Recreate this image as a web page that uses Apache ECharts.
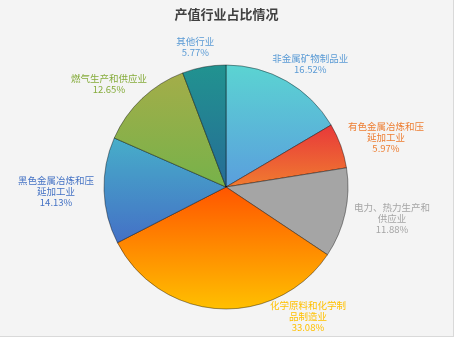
<!DOCTYPE html>
<html>
<head>
<meta charset="utf-8">
<script src="https://cdn.jsdelivr.net/npm/echarts@6/dist/echarts.min.js"></script>
<style>
    html, body { margin: 0; padding: 0; background: #ffffff; }
    #chart {
        width: 453px;
        height: 336px;
        background: #f4f4f4;
        border-right: 1px solid #d9d9d9;
        border-bottom: 1px solid #d9d9d9;
    }
</style>
</head>
<body>
<div id="chart"></div>
<script>
    // 行业名称 / 占比(%)
    var categories = ['非金属矿物制品业', '有色金属冶炼和压延加工业', '电力、热力生产和供应业',
        '化学原料和化学制品制造业', '黑色金属冶炼和压延加工业', '燃气生产和供应业', '其他行业'];
    var shares = [16.52, 5.97, 11.88, 33.08, 14.13, 12.65, 5.77];

    // 渐变色: 上 -> 下
    var topColors = ['#5bd4d2', '#e8383a', '#a5a5a5', '#ff5500', '#47aec9', '#a4ad49', '#219390'];
    var bottomColors = ['#5a9edd', '#f07c30', '#a5a5a5', '#ffc000', '#4470c6', '#76b24a', '#266c96'];
    var labelColors = ['#5b9bd5', '#ed7d31', '#a5a5a5', '#ffc000', '#4472c4', '#86ac3c', '#5b9bd5'];

    var CX = 226, CY = 187, R = 122, GAP = 9;

    // 每个扇区中线的角度 (从12点钟方向顺时针)
    var total = shares.reduce(function (a, b) { return a + b; }, 0);
    var midAngles = [];
    var acc = 0;
    shares.forEach(function (v) {
        midAngles.push((acc + v / 2) / total * Math.PI * 2);
        acc += v;
    });

    function placeLabel(a, w, h) {
        var s = Math.sin(a), c = Math.cos(a);
        return {
            x: CX + (R + GAP) * s + w / 2 * s,
            y: CY - (R + GAP) * c - h / 2 * c
        };
    }

    var chart = echarts.init(document.getElementById('chart'));
    chart.setOption({
        backgroundColor: '#f4f4f4',
        title: {
            text: '产值行业占比情况',
            left: 'center',
            top: 3,
            textStyle: {
                fontSize: 13,
                fontWeight: 'bold',
                color: '#404040',
                fontFamily: 'Noto Sans CJK SC'
            }
        },
        series: [{
            type: 'pie',
            center: [CX, CY],
            radius: R,
            startAngle: 90,
            clockwise: true,
            avoidLabelOverlap: false,
            labelLine: { show: false },
            label: {
                show: true,
                position: 'outside',
                fontSize: 9.5,
                lineHeight: 11,
                width: 78,
                overflow: 'break',
                fontFamily: 'Noto Sans CJK SC',
                formatter: function (p) {
                    return p.name + '\n' + p.value.toFixed(2) + '%';
                }
            },
            labelLayout: function (p) {
                var w = p.labelRect.width, h = p.labelRect.height;
                var a = midAngles[p.dataIndex];
                var pos = placeLabel(a, w, h);
                // 超出底部时沿圆周往回挪
                while (pos.y + h / 2 > 333) {
                    a -= 0.01;
                    pos = placeLabel(a, w, h);
                }
                return { x: pos.x, y: pos.y, align: 'center', verticalAlign: 'middle' };
            },
            emphasis: { scale: false },
            data: categories.map(function (name, i) {
                return {
                    name: name,
                    value: shares[i],
                    itemStyle: {
                        color: new echarts.graphic.LinearGradient(0, 0, 0, 1, [
                            { offset: 0, color: topColors[i] },
                            { offset: 1, color: bottomColors[i] }
                        ]),
                        borderColor: 'rgba(0,0,0,0.22)',
                        borderWidth: 1
                    },
                    label: { color: labelColors[i] }
                };
            })
        }]
    });
</script>
</body>
</html>
